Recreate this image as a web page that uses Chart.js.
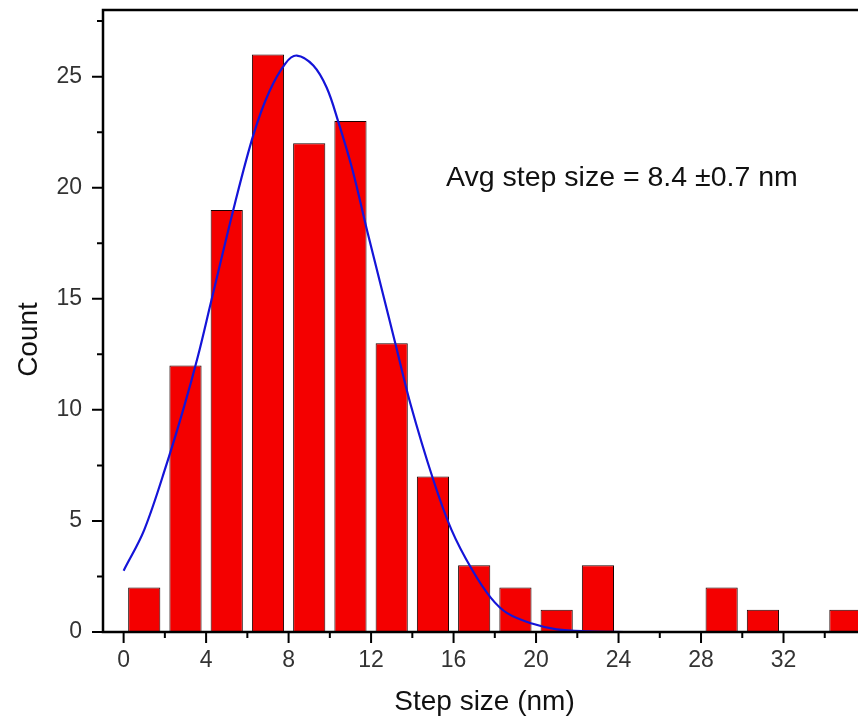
<!DOCTYPE html>
<html>
<head>
<meta charset="utf-8">
<script src="https://cdn.jsdelivr.net/npm/chart.js@4"></script>
<style>
  html, body { margin: 0; padding: 0; background: #fff; overflow: hidden; }
  #wrap { width: 858px; height: 718px; overflow: hidden; position: relative; }
  canvas { display: block; }
</style>
</head>
<body>
<div id="wrap"><canvas id="c" width="880" height="718"></canvas></div>
<script>
// Step-size histogram, 2 nm bins (bin centres)
const binCenters = [1, 3, 5, 7, 9, 11, 13, 15, 17, 19, 21, 23, 25, 27, 29, 31, 33, 35];
const counts     = [2, 12, 19, 26, 22, 23, 13, 7, 3, 2, 1, 3, 0, 0, 2, 1, 0, 1];

// Gaussian fit curve, sampled along its length
const fitX = [0, 1.0, 2.1, 2.95, 3.6, 4.25, 5.4, 6.3, 7.05, 7.85, 8.4, 9.2, 9.85, 10.4, 11.1, 11.8, 12.5, 13.2, 13.9, 15.0, 15.9, 16.9, 17.8, 18.6, 19.8, 21.0, 22.6, 24.3];
const fitY = [2.76, 4.6, 7.6, 10.2, 12.4, 14.9, 19.3, 22.4, 24.3, 25.6, 25.95, 25.5, 24.5, 23.0, 20.8, 18.1, 15.5, 12.9, 10.3, 6.9, 4.6, 2.8, 1.55, 0.85, 0.38, 0.12, 0.03, 0];

// Axis ticks
const xMajorTicks = [0, 4, 8, 12, 16, 20, 24, 28, 32];
const xMinorTicks = [2, 6, 10, 14, 18, 22, 26, 30, 34];
const yMajorTicks = [0, 5, 10, 15, 20, 25];
const yMinorTicks = [2.5, 7.5, 12.5, 17.5, 22.5, 27.5];

const xTitle = 'Step size (nm)';
const yTitle = 'Count';
const noteText = 'Avg step size = 8.4 \u00b10.7 nm';

const FONT = '"Liberation Sans", Arial, Helvetica, sans-serif';

// Frame, tick marks, axis titles and the note
const framePlugin = {
  id: 'frame',
  afterDraw(chart) {
    const { ctx, chartArea: a, scales: { x, y } } = chart;
    ctx.save();
    ctx.strokeStyle = '#000';
    ctx.lineWidth = 2.5;
    ctx.strokeRect(a.left, a.top, a.right - a.left, a.bottom - a.top);

    ctx.lineWidth = 2;
    ctx.beginPath();
    xMajorTicks.forEach(v => { const p = x.getPixelForValue(v); ctx.moveTo(p, a.bottom); ctx.lineTo(p, a.bottom + 11); });
    xMinorTicks.forEach(v => { const p = x.getPixelForValue(v); ctx.moveTo(p, a.bottom); ctx.lineTo(p, a.bottom + 6); });
    yMajorTicks.forEach(v => { const p = y.getPixelForValue(v); ctx.moveTo(a.left, p); ctx.lineTo(a.left - 11, p); });
    yMinorTicks.forEach(v => { const p = y.getPixelForValue(v); ctx.moveTo(a.left, p); ctx.lineTo(a.left - 6, p); });
    ctx.stroke();

    ctx.fillStyle = '#111';
    ctx.font = '28px ' + FONT;
    ctx.textAlign = 'center';
    ctx.textBaseline = 'alphabetic';
    ctx.fillText(xTitle, (a.left + a.right) / 2, 710);

    ctx.save();
    ctx.translate(37, 339.5);
    ctx.rotate(-Math.PI / 2);
    ctx.fillText(yTitle, 0, 0);
    ctx.restore();

    ctx.textAlign = 'left';
    ctx.font = '28.5px ' + FONT;
    ctx.fillText(noteText, 446, 186);
    ctx.restore();
  }
};

new Chart(document.getElementById('c'), {
  data: {
    datasets: [
      {
        type: 'line',
        data: fitX.map((v, i) => ({ x: v, y: fitY[i] })),
        borderColor: '#1414d8',
        borderWidth: 2.2,
        pointRadius: 0,
        tension: 0.35,
        fill: false,
        order: 0
      },
      {
        type: 'bar',
        data: binCenters.map((v, i) => ({ x: v, y: counts[i] })),
        backgroundColor: '#f40000',
        borderColor: '#1a0000',
        borderWidth: 1,
        borderSkipped: false,
        barPercentage: 0.78,
        categoryPercentage: 1.0,
        order: 1
      }
    ]
  },
  options: {
    responsive: false,
    animation: false,
    events: [],
    layout: { padding: { top: 10, right: 14, left: 0, bottom: 0 } },
    plugins: { legend: { display: false }, tooltip: { enabled: false } },
    scales: {
      x: {
        type: 'linear',
        offset: false,
        min: -1,
        max: 36,
        grid: { display: false, drawTicks: false, offset: false },
        border: { display: false },
        afterBuildTicks(scale) { scale.ticks = xMajorTicks.map(v => ({ value: v })); },
        afterFit(scale) { scale.height = 86; scale.paddingLeft = 0; scale.paddingRight = 0; },
        ticks: {
          padding: 15,
          color: '#333',
          font: { family: FONT, size: 23 },
          maxRotation: 0,
          autoSkip: false
        }
      },
      y: {
        type: 'linear',
        min: 0,
        max: 28,
        grid: { display: false, drawTicks: false },
        border: { display: false },
        afterBuildTicks(scale) { scale.ticks = yMajorTicks.map(v => ({ value: v })); },
        afterFit(scale) { scale.width = 103; scale.paddingTop = 0; scale.paddingBottom = 0; },
        ticks: {
          padding: 21,
          color: '#333',
          font: { family: FONT, size: 23 }
        }
      }
    }
  },
  plugins: [framePlugin]
});
</script>
</body>
</html>
